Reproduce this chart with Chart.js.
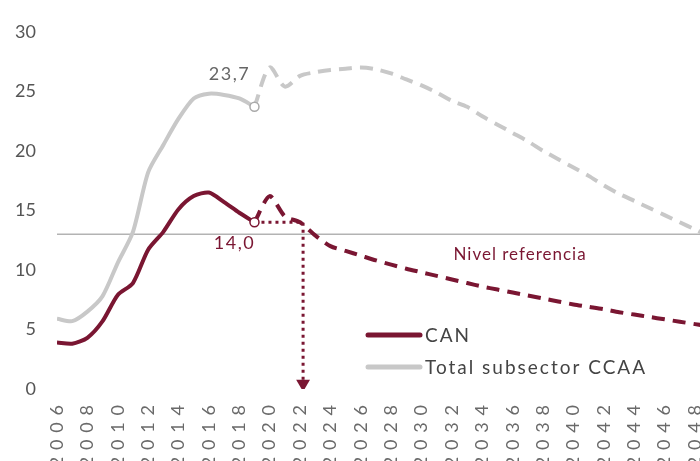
<!DOCTYPE html>
<html>
<head>
<meta charset="utf-8">
<script src="https://cdn.jsdelivr.net/npm/chart.js@4/dist/chart.umd.min.js"></script>
<style>
  html, body { margin: 0; padding: 0; background: #fff; overflow: hidden; }
  #wrap { position: relative; width: 700px; height: 461px; }
  canvas { display: block; }
</style>
</head>
<body>
<div id="wrap"><canvas id="debtChart"></canvas></div>
<script>
const histYears = [2006, 2007, 2008, 2009, 2010, 2011, 2012, 2013, 2014, 2015, 2016, 2017, 2018, 2019];
const projYears = [2019, 2020, 2021, 2022, 2023, 2024, 2025, 2026, 2027, 2028, 2029, 2030, 2031, 2032, 2033, 2034,
  2035, 2036, 2037, 2038, 2039, 2040, 2041, 2042, 2043, 2044, 2045, 2046, 2047, 2048, 2049];

const canHist = [3.9, 3.8, 4.3, 5.7, 7.9, 8.9, 11.7, 13.2, 15.1, 16.2, 16.5, 15.7, 14.8, 14.0];
const canProj = [14.0, 16.2, 14.5, 14.0, 12.9, 12.0, 11.6, 11.2, 10.8, 10.45, 10.1, 9.8, 9.5, 9.2, 8.9, 8.6,
  8.35, 8.1, 7.85, 7.6, 7.35, 7.1, 6.9, 6.7, 6.45, 6.25, 6.05, 5.85, 5.65, 5.45, 5.25];

const ccaaHist = [5.9, 5.7, 6.5, 7.8, 10.6, 13.2, 18.2, 20.5, 22.7, 24.4, 24.8, 24.7, 24.4, 23.7];
const ccaaProj = [23.7, 27.0, 25.4, 26.3, 26.6, 26.8, 26.9, 27.0, 26.85, 26.5, 26.0, 25.5, 24.9, 24.2, 23.7, 22.9,
  22.2, 21.5, 20.8, 20.0, 19.3, 18.6, 17.9, 17.1, 16.4, 15.8, 15.2, 14.6, 14.0, 13.4, 12.8];

const refLevel = 13;
const refYears = [2006, 2049];
const markYear = 2022.2;     // año en que CAN baja del nivel de referencia
const yTicks = [0, 5, 10, 15, 20, 25, 30];

const RED = "#7a1632";
const GREY = "#c8c8c8";
const FONT = "Lato, 'Open Sans', sans-serif";

const pts = (xs, ys) => xs.map((x, i) => ({ x: x, y: ys[i] }));
const lastDot = (n) => Array.from({ length: n }, (_, i) => (i === n - 1 ? 4.5 : 0));

const annotations = {
  id: "annotations",
  afterDatasetsDraw(chart) {
    const { ctx, chartArea, scales } = chart;
    const x = scales.x, y = scales.y;
    ctx.save();
    ctx.textAlign = "center";
    ctx.textBaseline = "middle";

    ctx.letterSpacing = "1.5px";
    ctx.font = "18px " + FONT;
    ctx.fillStyle = "#666";
    ctx.fillText("23,7", x.getPixelForValue(2019) - 25, y.getPixelForValue(23.7) - 33);

    ctx.fillStyle = RED;
    ctx.fillText("14,0", x.getPixelForValue(2019) - 20, y.getPixelForValue(14.0) + 21);

    ctx.letterSpacing = "1px";
    ctx.font = "17px " + FONT;
    ctx.textAlign = "left";
    ctx.fillText("Nivel referencia", x.getPixelForValue(2032.1), y.getPixelForValue(refLevel) + 20);

    // leyenda
    const lx = chartArea.left + 311;
    const rows = [
      { label: "CAN", color: RED, y: 335 },
      { label: "Total subsector CCAA", color: GREY, y: 367 },
    ];
    ctx.letterSpacing = "2px";
    ctx.font = "19px " + FONT;
    ctx.fillStyle = "#444";
    rows.forEach((r) => {
      ctx.strokeStyle = r.color;
      ctx.lineWidth = 5;
      ctx.lineCap = "round";
      ctx.beginPath();
      ctx.moveTo(lx, r.y);
      ctx.lineTo(lx + 52, r.y);
      ctx.stroke();
      ctx.fillText(r.label, lx + 57, r.y + 1);
    });
    ctx.letterSpacing = "0px";
    ctx.restore();
  },
};

const ctx = document.getElementById("debtChart").getContext("2d");

const chart = new Chart(ctx, {
  type: "line",
  data: {
    datasets: [
      {
        label: "CAN",
        data: pts(histYears, canHist),
        borderColor: RED,
        borderWidth: 4,
        tension: 0.25,
        pointRadius: lastDot(histYears.length),
        pointBackgroundColor: "#fff",
        pointBorderColor: RED,
        pointBorderWidth: 1.5,
      },
      {
        label: "CAN proyección",
        data: pts(projYears, canProj),
        borderColor: RED,
        borderWidth: 4,
        borderDash: [13, 8],
        tension: 0.25,
        pointRadius: 0,
      },
      {
        label: "Marca",
        data: [
          { x: 2019, y: 14.0 },
          { x: markYear, y: 14.0 },
          { x: markYear, y: 0.45 },
        ],
        borderColor: RED,
        borderWidth: 3,
        borderDash: [3, 4],
        tension: 0,
        pointStyle: "triangle",
        rotation: 180,
        pointRadius: [0, 0, 8],
        pointBackgroundColor: RED,
        pointBorderColor: RED,
        pointBorderWidth: 0,
      },
      {
        label: "Total subsector CCAA",
        data: pts(histYears, ccaaHist),
        borderColor: GREY,
        borderWidth: 4,
        tension: 0.25,
        pointRadius: lastDot(histYears.length),
        pointBackgroundColor: "#fff",
        pointBorderColor: "#aaa",
        pointBorderWidth: 1.5,
      },
      {
        label: "CCAA proyección",
        data: pts(projYears, ccaaProj),
        borderColor: GREY,
        borderWidth: 4,
        borderDash: [13, 8],
        tension: 0.3,
        pointRadius: 0,
      },
      {
        label: "Nivel referencia",
        data: refYears.map((x) => ({ x: x, y: refLevel })),
        borderColor: "#b3b3b3",
        borderWidth: 1.5,
        pointRadius: 0,
      },
    ],
  },
  options: {
    responsive: true,
    maintainAspectRatio: false,
    animation: false,
    layout: {
      autoPadding: false,
      padding: { top: 24, right: 0, left: 0, bottom: 0 },
    },
    plugins: {
      legend: { display: false },
      tooltip: { enabled: false },
    },
    scales: {
      x: {
        type: "linear",
        min: 2006,
        max: 2048.33,
        grid: { display: false, drawTicks: false },
        border: { display: false },
        afterBuildTicks: (scale) => {
          const t = [];
          for (let v = 2006; v <= 2048; v += 2) t.push({ value: v });
          scale.ticks = t;
        },
        afterFit: (scale) => {
          scale.height = 72;
          scale.paddingLeft = 0;
          scale.paddingRight = 0;
        },
        ticks: {
          autoSkip: false,
          minRotation: 90,
          maxRotation: 90,
          padding: 16,
          color: "#6a6a6a",
          font: { family: FONT, size: 18 },
          callback: (v) => String(v).split("").join(" \u2009"),
        },
      },
      y: {
        min: 0,
        max: 30,
        grid: { display: false, drawTicks: false },
        border: { display: false },
        afterBuildTicks: (scale) => {
          scale.ticks = yTicks.map((v) => ({ value: v }));
        },
        afterFit: (scale) => { scale.width = 57; },
        ticks: {
          padding: 21,
          color: "#555",
          font: { family: FONT, size: 18 },
        },
      },
    },
  },
  plugins: [annotations],
});
</script>
</body>
</html>
